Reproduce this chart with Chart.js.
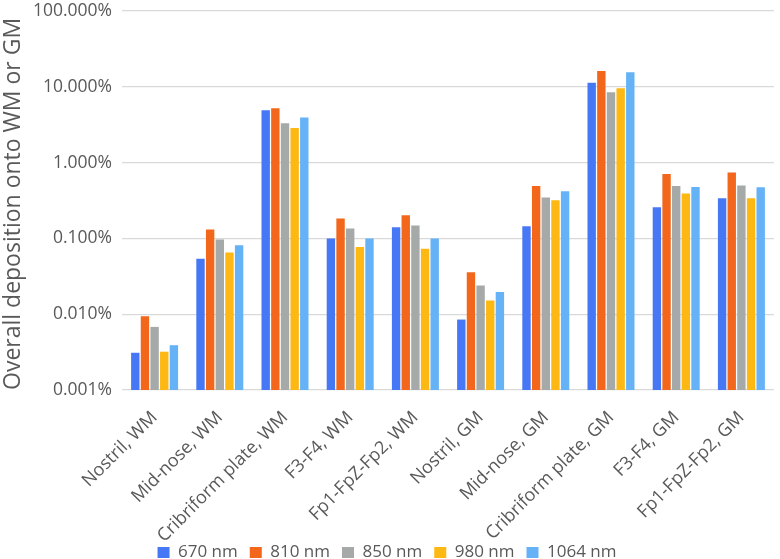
<!DOCTYPE html>
<html>
<head>
<meta charset="utf-8">
<script src="https://cdn.jsdelivr.net/npm/chart.js@4.4.1/dist/chart.umd.min.js"></script>
<style>
html,body{margin:0;padding:0;background:#fff;}
#wrap{width:780px;height:559px;}
</style>
</head>
<body>
<div id="wrap"><canvas id="c" width="780" height="559"></canvas></div>
<script>
const categories = ["Nostril, WM","Mid-nose, WM","Cribriform plate, WM","F3-F4, WM","Fp1-FpZ-Fp2, WM","Nostril, GM","Mid-nose, GM","Cribriform plate, GM","F3-F4, GM","Fp1-FpZ-Fp2, GM"];
const seriesNames = ["670 nm","810 nm","850 nm","980 nm","1064 nm"];
const s670  = [0.0031, 0.054, 4.9, 0.100, 0.140, 0.0085, 0.145, 11.3, 0.258, 0.339];
const s810  = [0.0094, 0.131, 5.2, 0.183, 0.202, 0.0357, 0.492, 16.1, 0.709, 0.740];
const s850  = [0.0068, 0.097, 3.3, 0.135, 0.148, 0.0240, 0.346, 8.5, 0.492, 0.498];
const s980  = [0.0032, 0.065, 2.87, 0.077, 0.073, 0.0152, 0.319, 9.6, 0.391, 0.339];
const s1064 = [0.0039, 0.081, 3.94, 0.100, 0.100, 0.0196, 0.419, 15.6, 0.477, 0.473];
const tickValues = [0.001, 0.01, 0.1, 1, 10, 100];
const colors = ["#4677F5","#F2671B","#A5AAA9","#FDB813","#65B2F7"];

const all = [s670, s810, s850, s980, s1064];
const FONT = "'Open Sans', sans-serif";
const TXT = "#595959";

new Chart(document.getElementById('c'), {
  type: 'bar',
  data: {
    labels: categories,
    datasets: all.map((d, i) => ({
      label: seriesNames[i],
      data: d,
      backgroundColor: colors[i],
      borderWidth: 0,
      categoryPercentage: 0.74,
      barPercentage: 0.87
    }))
  },
  options: {
    responsive: false,
    animation: false,
    layout: { padding: { left: 0, right: 6, top: 11, bottom: -12 } },
    plugins: {
      legend: {
        position: 'bottom',
        labels: {
          font: { family: FONT, size: 17 },
          color: TXT,
          boxWidth: 12,
          boxHeight: 11,
          padding: 12
        }
      },
      tooltip: { enabled: false }
    },
    scales: {
      x: {
        grid: { display: false },
        border: { display: false },
        ticks: {
          font: { family: FONT, size: 18 },
          color: TXT,
          minRotation: 45,
          maxRotation: 45,
          autoSkip: false,
          padding: 9
        },
        afterFit: (s) => {
          s.height = 142; s.paddingLeft = 0; s.paddingRight = 0;
          s._computeLabelArea = () => undefined;
        }
      },
      y: {
        type: 'logarithmic',
        min: 0.001,
        max: 100,
        afterBuildTicks: (s) => { s.ticks = tickValues.map(v => ({ value: v })); },
        grid: { color: '#D9D9D9', lineWidth: 1.2, drawTicks: false },
        border: { display: false },
        ticks: {
          font: { family: FONT, size: 17.5 },
          color: TXT,
          padding: 10,
          callback: (v) => v.toFixed(3) + '%'
        },
        title: {
          display: true,
          text: 'Overall deposition onto WM or GM',
          align: 'start',
          font: { family: FONT, size: 23 },
          color: TXT,
          padding: { top: 0, bottom: 2 }
        },
        afterFit: (s) => { s.width = 122; s.paddingTop = 0; s.paddingBottom = 0; }
      }
    }
  }
});
</script>
</body>
</html>
